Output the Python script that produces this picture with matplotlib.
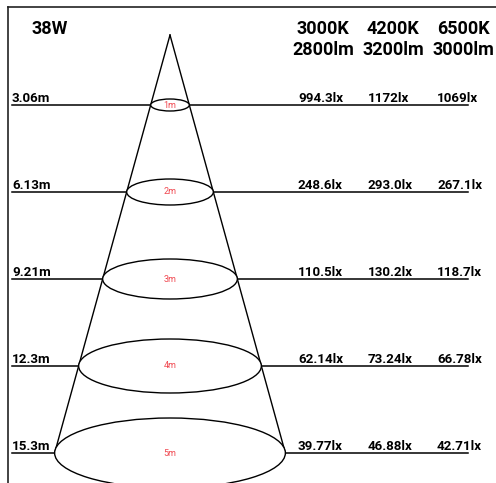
import matplotlib
matplotlib.use("Agg")
import matplotlib.pyplot as plt
from matplotlib.patches import Ellipse

# donnees du diagramme
watt = "38W"
cct = ["3000K", "4200K", "6500K"]
lumens = ["2800lm", "3200lm", "3000lm"]
heights_m = [3.06, 6.13, 9.21, 12.3, 15.3]
beam_m = [1, 2, 3, 4, 5]
lux_3000 = [994.3, 248.6, 110.5, 62.14, 39.77]
lux_4200 = [1172, 293.0, 130.2, 73.24, 46.88]
lux_6500 = [1069, 267.1, 118.7, 66.78, 42.71]

# mise en page (pixels)
W, H = 496, 483
apex_x, apex_y = 170, 35
row_y0, row_step = 105, 87
slope = 0.276
ell_h = [12, 26, 40, 54, 70]
col_x = [298, 368, 437]
head_x = [323, 393, 463]
font = "Roboto"
red = "#f04850"


def fmt_lux(v):
    return f"{v:#.4g}".rstrip(".") + "lx"


fig = plt.figure(figsize=(W / 100, H / 100), dpi=100)
ax = fig.add_axes([0, 0, 1, 1])
ax.set_xlim(0, W)
ax.set_ylim(H, 0)
ax.axis("off")

# cadre
ax.plot([8, W], [7, 7], color="#222222", lw=1.2)
ax.plot([8, 8], [7, H], color="#222222", lw=1.2)

bold = dict(fontweight="bold", family=font)
ax.text(32, 29, watt, fontsize=13, va="center", **bold)
for x, c, l in zip(head_x, cct, lumens):
    ax.text(x, 29, c, fontsize=13, ha="center", va="center", **bold)
    ax.text(x, 50, l, fontsize=13, ha="center", va="center", **bold)

rows_y = [row_y0 + i * row_step for i in range(len(heights_m))]

# cone
last_y = rows_y[-1]
half = slope * (last_y - apex_y)
ax.plot([apex_x, apex_x - half], [apex_y, last_y], color="black", lw=1.0, zorder=2)
ax.plot([apex_x, apex_x + half], [apex_y, last_y], color="black", lw=1.0, zorder=2)

lux_cols = [lux_3000, lux_4200, lux_6500]
for i, y in enumerate(rows_y):
    ax.plot([12, 468], [y, y], color="black", lw=1.1, zorder=1)
    w = 2 * slope * (y - apex_y)
    ax.add_patch(Ellipse((apex_x, y), w, ell_h[i], facecolor="white",
                         edgecolor="black", lw=1.0, zorder=3))
    ax.text(apex_x, y, f"{beam_m[i]}m", color=red, fontsize=6.5, family=font,
            ha="center", va="center", zorder=4)
    ax.text(12, y - 3, f"{heights_m[i]:.3g}m", fontsize=9.6, va="baseline", **bold)
    for x, col in zip(col_x, lux_cols):
        ax.text(x, y - 3, fmt_lux(col[i]), fontsize=9.6, va="baseline", **bold)

fig.savefig("out.png", dpi=100)
